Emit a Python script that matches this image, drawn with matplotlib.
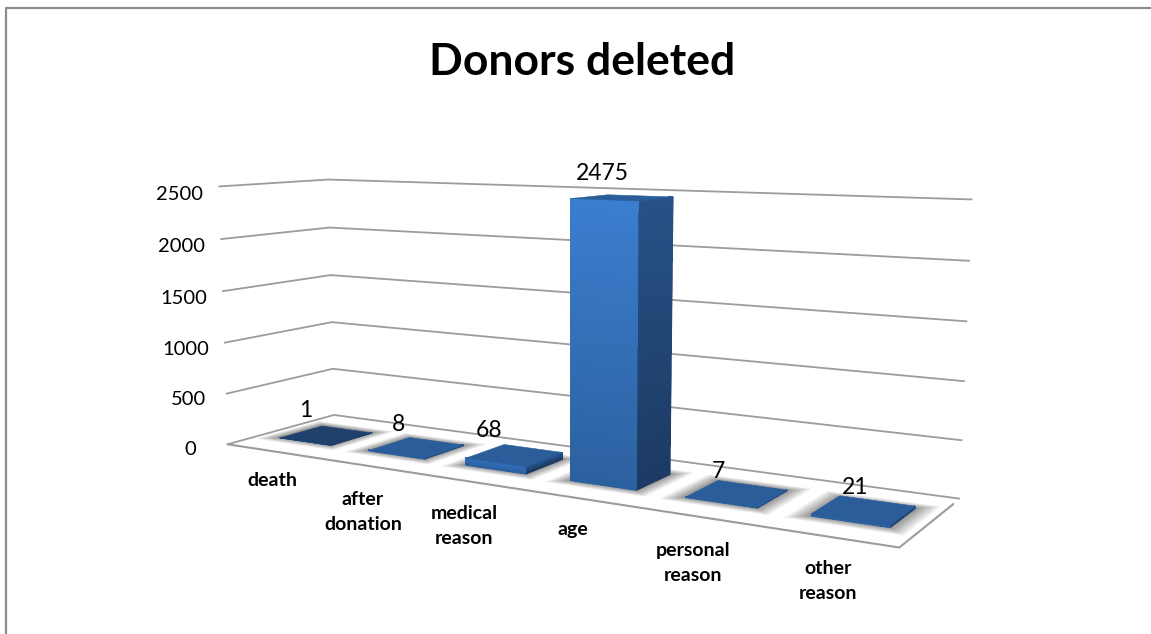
import numpy as np
import matplotlib
matplotlib.use('Agg')
from matplotlib import pyplot as plt
from matplotlib.colors import to_rgb
from matplotlib.lines import Line2D
from mpl_toolkits.mplot3d.art3d import Poly3DCollection

categories = ['death', 'after\ndonation', 'medical\nreason', 'age', 'personal\nreason', 'other\nreason']
values = [1, 8, 68, 2475, 7, 21]
z_ticks = [0, 500, 1000, 1500, 2000, 2500]

W, H = 1151, 634
GREY = '#9c9c9c'
plt.rcParams['font.family'] = ['Lato', 'DejaVu Sans']
plt.rcParams['grid.color'] = GREY
plt.rcParams['grid.linewidth'] = 1.3


def mix(c1, c2, t):
    c1, c2 = np.array(to_rgb(c1)), np.array(to_rgb(c2))
    return tuple(c1 + (c2 - c1) * t)


def box_face(ax, verts, color, zorder, smooth=True):
    poly = Poly3DCollection([verts], facecolors=[color], shade=False, zorder=zorder)
    if smooth:
        poly.set_edgecolor([color])
        poly.set_linewidth(0.4)
    else:
        # gradient strips: no edge and no antialiasing, else the seams show
        poly.set_edgecolor('none')
        poly.set_linewidth(0)
        poly.set_antialiased(False)
    ax.add_collection3d(poly)


def draw_bar(ax, x0, x1, y0, y1, h, top_color):
    # soft shadow on the floor, tight near the bar and fading outwards
    layers = 14
    for k in range(layers):
        f = ((layers - k) / layers) ** 1.4
        gx = 0.15 * f
        gy = 0.10 * f
        poly = Poly3DCollection([[(x0 - gx, y0 - gy, 0), (x1 + gx, y0 - gy, 0),
                                  (x1 + gx, y1 + gy, 0), (x0 - gx, y1 + gy, 0)]],
                                facecolors=[(0.25, 0.25, 0.25, 0.06)], edgecolors='none', shade=False, zorder=1)
        ax.add_collection3d(poly)

    # plain faces first so the outline stays smooth under the gradient strips
    box_face(ax, [(x1, y0, 0), (x1, y1, 0), (x1, y1, h), (x1, y0, h)], '#213f6e', 2)
    box_face(ax, [(x0, y0, 0), (x1, y0, 0), (x1, y0, h), (x0, y0, h)], '#2c619f', 3)

    # split the two upright faces so they get a vertical gradient
    n = 60 if h > 100 else 4
    front_top = '#3b7dcf' if h > 100 else ('#2f6db9' if h > 50 else '#2c619f')
    edges = np.linspace(0, h, n + 1)
    for k in range(n):
        t = k / (n - 1)
        box_face(ax, [(x1, y0, edges[k]), (x1, y1, edges[k]), (x1, y1, edges[k + 1]), (x1, y0, edges[k + 1])],
                 mix('#1c3a63', '#275186', t), 2, smooth=False)
        box_face(ax, [(x0, y0, edges[k]), (x1, y0, edges[k]), (x1, y0, edges[k + 1]), (x0, y0, edges[k + 1])],
                 mix('#2c619f', front_top, t), 3, smooth=False)
    box_face(ax, [(x0, y0, h), (x1, y0, h), (x1, y1, h), (x0, y1, h)], top_color, 4)


def main():
    fig = plt.figure(figsize=(W / 100, H / 100), dpi=100)
    ax = fig.add_axes([156.6 / W, -108.66 / H, 797.86 / W, 797.86 / H], projection='3d', computed_zorder=False)
    ax.set_xlim(0, len(values), view_margin=0)
    ax.set_ylim(0, 1, view_margin=0)
    ax.set_zlim(0, 2500, view_margin=0)
    ax.view_init(elev=8.661, azim=-59.448)
    ax.set_proj_type('persp', focal_length=0.341)
    ax.set_box_aspect((2.6822, 0.6443, 1))
    ax.patch.set_alpha(0)

    ax.set_xticks([])
    ax.set_yticks([])
    ax.set_zticks(z_ticks)
    ax.zaxis.set_ticks_position('lower')
    ax.tick_params(axis='z', labelsize=14.5, color=(0, 0, 0, 0), pad=10)
    for axis in (ax.xaxis, ax.yaxis, ax.zaxis):
        axis.set_pane_color((1, 1, 1, 0))
        axis.pane.set_edgecolor((1, 1, 1, 0))
        axis.line.set_color((1, 1, 1, 0))

    # front and right edges of the floor
    n = len(values)
    ax.plot([0, n, n], [0, 0, 1], [0, 0, 0], color=GREY, lw=1.5, zorder=1)

    width = 0.58
    y0, y1 = 0.3, 0.7
    # value labels are nudged by hand, they do not follow the perspective exactly
    nudge_x = [-0.23, -0.19, -0.25, -0.18, -0.15, -0.07]
    lift_z = [225, 200, 200, 200, 170, 170]
    for i, v in enumerate(values):
        top = '#1f3f6d' if i == 0 else '#2b5d9b'
        draw_bar(ax, i + 0.5 - width / 2, i + 0.5 + width / 2, y0, y1, v, top)
        ax.text(i + 0.5 + nudge_x[i], 0.5, v + lift_z[i], str(v), fontsize=16.5, ha='center', va='center',
                color='black', zorder=6)

    # category labels sit at their own place below the floor
    label_x = [272, 363, 464, 573, 693, 828]
    label_y = [481, 512, 526, 529, 563, 581]
    for name, lx, ly in zip(categories, label_x, label_y):
        fig.text(lx / W, 1 - ly / H, name, fontsize=14, fontweight='bold', ha='center', va='center',
                 linespacing=1.6)

    fig.text(582 / W, 1 - 62 / H, 'Donors deleted', fontsize=32, fontweight='bold', ha='center', va='center')

    # chart frame, only top and left are in the picture
    fig.add_artist(Line2D([5.5 / W, 5.5 / W, 1], [0, 1 - 8 / H, 1 - 8 / H], color='#8c8c8c', lw=1.6))

    plt.savefig('out.png', dpi=100)


if __name__ == "__main__":
    main()
